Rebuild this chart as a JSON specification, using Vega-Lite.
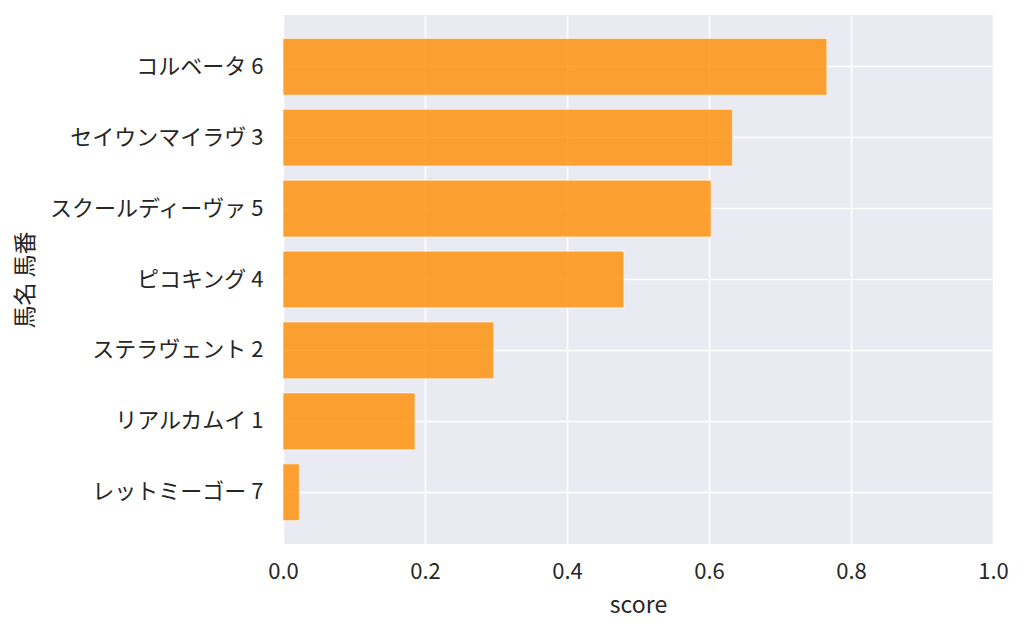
{
  "$schema": "https://vega.github.io/schema/vega-lite/v6.json",
  "description": "馬名 馬番 ごとの score の横棒グラフ",
  "width": 710,
  "height": 529,
  "autosize": {"type": "none"},
  "padding": {"left": 283, "top": 15, "right": 31, "bottom": 90},
  "background": "white",
  "data": {
    "values": [
      {"name": "コルベータ 6", "score": 0.766},
      {"name": "セイウンマイラヴ 3", "score": 0.633},
      {"name": "スクールディーヴァ 5", "score": 0.603},
      {"name": "ピコキング 4", "score": 0.480},
      {"name": "ステラヴェント 2", "score": 0.297},
      {"name": "リアルカムイ 1", "score": 0.186},
      {"name": "レットミーゴー 7", "score": 0.023}
    ]
  },
  "mark": {
    "type": "bar",
    "fill": "#ff8c00",
    "fillOpacity": 0.8,
    "stroke": "white",
    "strokeWidth": 1,
    "strokeOpacity": 0.6
  },
  "encoding": {
    "y": {
      "field": "name",
      "type": "nominal",
      "sort": "-x",
      "title": "馬名 馬番",
      "scale": {"paddingInner": 0.2, "paddingOuter": 0.33},
      "axis": {"bandPosition": 0.5, "labelPadding": 20, "titleX": -246, "labelLimit": 400}
    },
    "x": {
      "field": "score",
      "type": "quantitative",
      "title": "score",
      "scale": {"domain": [0, 1], "nice": false},
      "axis": {"values": [0, 0.2, 0.4, 0.6, 0.8, 1.0], "format": ".1f", "labelFlush": false, "labelPadding": 17, "titlePadding": 12}
    }
  },
  "config": {
    "font": "Noto Sans CJK JP",
    "view": {"fill": "#EAEAF2", "stroke": null},
    "axis": {
      "domain": false,
      "ticks": false,
      "grid": true,
      "gridColor": "white",
      "gridWidth": 1.6,
      "gridOpacity": 1,
      "labelFont": "Noto Sans CJK JP",
      "labelFontSize": 22,
      "labelColor": "#262626",
      "titleFont": "Noto Sans CJK JP",
      "titleFontSize": 23,
      "titleFontWeight": "normal",
      "titleColor": "#262626"
    }
  }
}
